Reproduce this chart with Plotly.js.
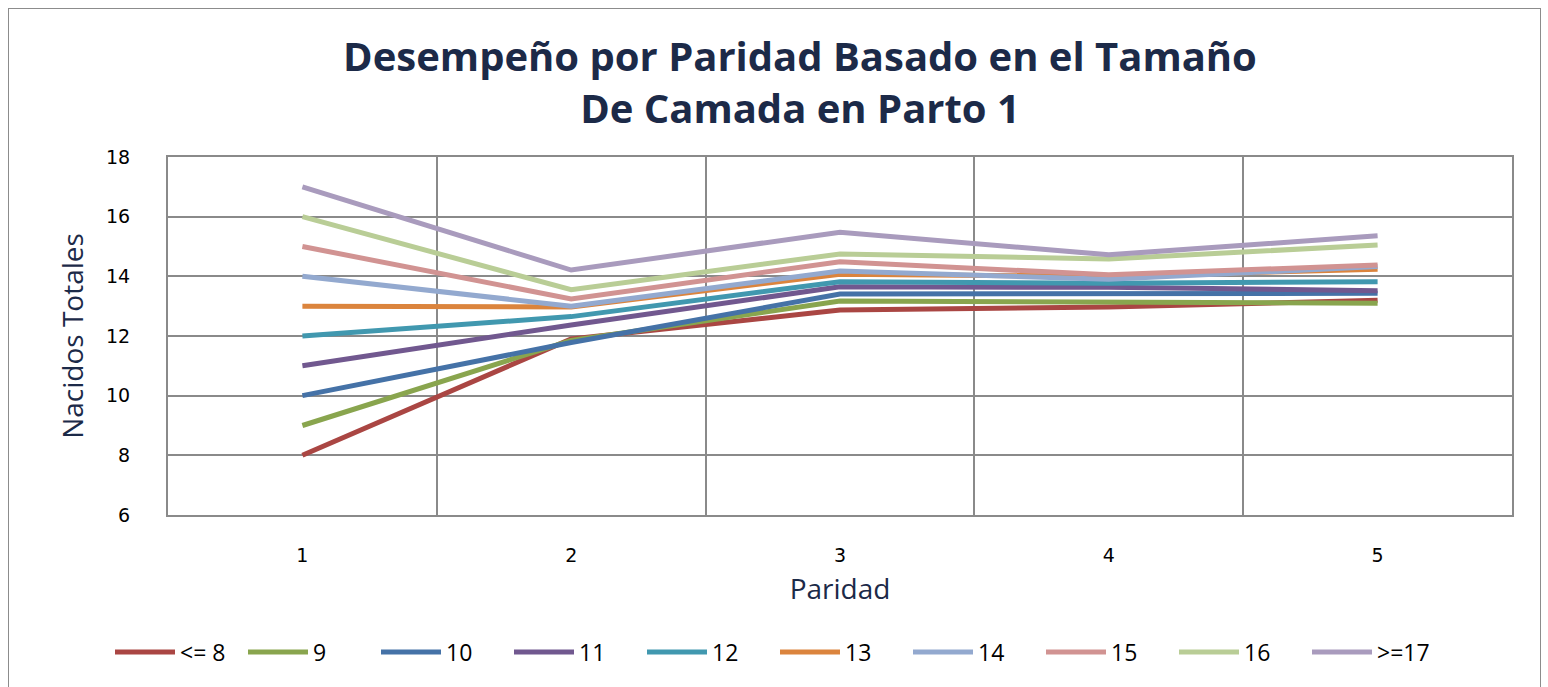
<!DOCTYPE html>
<html>
<head>
<meta charset="utf-8">
<script src="https://cdn.plot.ly/plotly-3.0.1.min.js"></script>
<style>
  body { margin: 0; background: #fff; }
  #chart { width: 1548px; height: 687px; }
  #frame { position: absolute; left: 8px; top: 8px; width: 1531px; height: 700px; border: 1px solid #8c8c8c; pointer-events: none; }
</style>
</head>
<body>
<div id="chart"></div>
<div id="frame"></div>
<script>
// categories on the x axis
var paridad = ['1', '2', '3', '4', '5'];

// one series per litter size in parity 1
var serieNames = ['<= 8', '9', '10', '11', '12', '13', '14', '15', '16', '>=17'];
var s8  = [8,  11.9,  12.87, 12.97, 13.2];
var s9  = [9,  11.85, 13.17, 13.15, 13.1];
var s10 = [10, 11.78, 13.41, 13.41, 13.43];
var s11 = [11, 12.37, 13.65, 13.63, 13.52];
var s12 = [12, 12.65, 13.82, 13.77, 13.82];
var s13 = [13, 12.97, 14.07, 14.0,  14.24];
var s14 = [14, 13.0,  14.18, 13.9,  14.33];
var s15 = [15, 13.24, 14.49, 14.05, 14.38];
var s16 = [16, 13.55, 14.75, 14.58, 15.05];
var s17 = [17, 14.21, 15.48, 14.72, 15.36];

var colores = ['#AA4643', '#89A54E', '#4572A7', '#71588F', '#4198AF',
               '#DB843D', '#93A9CF', '#D19392', '#B9CD96', '#A99BBD'];

var series = [s8, s9, s10, s11, s12, s13, s14, s15, s16, s17];

var data = series.map(function (ys, i) {
    return {
        x: paridad,
        y: ys,
        name: serieNames[i],
        type: 'scatter',
        mode: 'lines',
        line: { color: colores[i], width: 5 }
    };
});

var navy = '#1c2a48';
var grid = '#8a8a8a';

var layout = {
    title: {
        text: 'Desempeño por Paridad Basado en el Tamaño<br>De Camada en Parto 1',
        font: { family: 'Open Sans', size: 40, color: navy, weight: 'bold' },
        xref: 'container', x: 800 / 1548,
        yref: 'container', y: 1 - 71 / 687, yanchor: 'middle'
    },
    showlegend: true,
    legend: {
        orientation: 'h',
        x: 110 / 1548, xanchor: 'left', xref: 'container',
        y: 1 - 652 / 687, yanchor: 'middle', yref: 'container',
        font: { family: 'Open Sans', size: 23, color: '#000' },
        entrywidth: 58,
        itemwidth: 60,
        traceorder: 'normal'
    },
    margin: { l: 168, r: 36, t: 157, b: 172 },
    paper_bgcolor: '#fff',
    plot_bgcolor: '#fff',
    xaxis: {
        type: 'category',
        range: [-0.5, 4.5],
        tickson: 'boundaries',
        showgrid: true,
        gridcolor: grid,
        gridwidth: 2,
        showline: true,
        linecolor: grid,
        linewidth: 2,
        mirror: true,
        ticks: '',
        ticklabelstandoff: 22,
        tickfont: { family: 'DejaVu Sans', size: 19, color: '#000' },
        title: { text: 'Paridad', font: { family: 'Open Sans', size: 28, color: navy }, standoff: 15 }
    },
    yaxis: {
        range: [6, 18],
        dtick: 2,
        showgrid: true,
        gridcolor: grid,
        gridwidth: 2,
        showline: true,
        linecolor: grid,
        linewidth: 2,
        mirror: true,
        zeroline: false,
        ticks: '',
        ticklabelstandoff: 32,
        tickfont: { family: 'DejaVu Sans', size: 19, color: '#000' },
        title: { text: 'Nacidos Totales', font: { family: 'Open Sans', size: 28, color: navy }, standoff: 14 }
    }
};

Plotly.newPlot('chart', data, layout, { displayModeBar: false });
</script>
</body>
</html>
